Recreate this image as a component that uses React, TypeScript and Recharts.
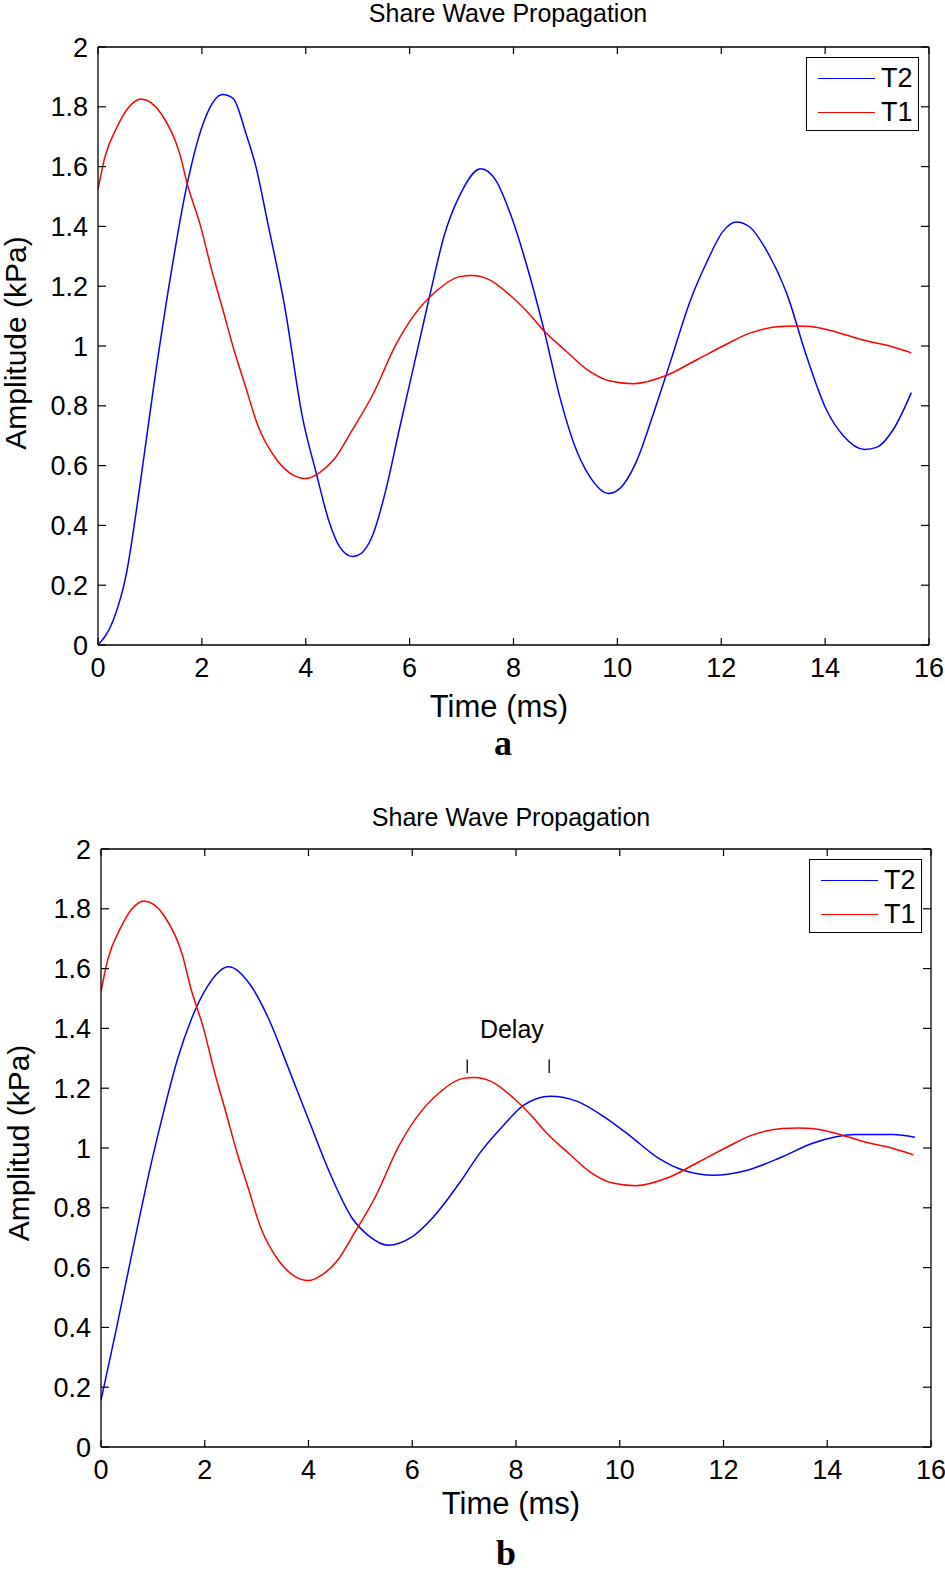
import React from 'react';
import { LineChart, Line, XAxis, YAxis, Legend, ReferenceLine, ReferenceDot } from 'recharts';

// T1 signal (same in both panels)
const t1Time = [0, 0.13, 0.38, 0.6, 0.83, 1.22, 1.57, 1.73, 1.96, 2.21, 2.4, 2.63, 2.82, 3.08, 3.43, 3.69, 4.0, 4.26, 4.55, 4.9, 5.29, 5.74, 6.09, 6.51, 6.96, 7.2, 7.53, 7.94, 8.32, 8.58, 9.03, 9.41, 9.86, 10.31, 10.95, 11.53, 12.1, 12.55, 13.13, 13.45, 13.71, 14.1, 14.73, 15.24, 15.66];
const t1Amp = [1.524, 1.63, 1.737, 1.8, 1.826, 1.776, 1.645, 1.535, 1.41, 1.24, 1.124, 0.98, 0.876, 0.733, 0.622, 0.576, 0.557, 0.576, 0.622, 0.72, 0.837, 1.006, 1.104, 1.183, 1.232, 1.236, 1.222, 1.169, 1.104, 1.052, 0.98, 0.922, 0.883, 0.874, 0.902, 0.954, 1.006, 1.043, 1.065, 1.067, 1.065, 1.052, 1.02, 1.0, 0.977];

// T2 signal, panel a
const t2aTime = [0, 0.29, 0.545, 0.8, 1.06, 1.38, 1.7, 2.05, 2.4, 2.6, 2.85, 3.04, 3.27, 3.59, 3.94, 4.2, 4.46, 4.65, 4.9, 5.03, 5.29, 5.55, 5.8, 6.09, 6.38, 6.67, 6.96, 7.37, 7.66, 7.95, 8.26, 8.58, 8.9, 9.15, 9.47, 9.83, 10.05, 10.37, 10.69, 11.01, 11.4, 11.72, 12.04, 12.29, 12.55, 12.87, 13.26, 13.64, 14.03, 14.35, 14.76, 14.99, 15.31, 15.66];
const t2aAmp = [0, 0.081, 0.237, 0.524, 0.85, 1.215, 1.528, 1.756, 1.841, 1.828, 1.71, 1.6, 1.41, 1.137, 0.759, 0.576, 0.407, 0.329, 0.296, 0.302, 0.368, 0.524, 0.72, 0.941, 1.163, 1.372, 1.502, 1.593, 1.554, 1.437, 1.267, 1.059, 0.824, 0.68, 0.563, 0.507, 0.524, 0.615, 0.772, 0.941, 1.15, 1.28, 1.385, 1.415, 1.398, 1.32, 1.176, 0.967, 0.785, 0.7, 0.654, 0.661, 0.72, 0.844];

// T2 signal, panel b
const t2bTime = [0, 0.29, 0.66, 0.97, 1.22, 1.48, 1.74, 2.05, 2.46, 2.88, 3.24, 3.6, 4.01, 4.43, 4.84, 5.15, 5.54, 5.98, 6.39, 6.91, 7.32, 7.73, 8.15, 8.66, 9.18, 9.7, 10.21, 10.73, 11.24, 11.81, 12.38, 13.1, 13.72, 14.55, 15.27, 15.69];
const t2bAmp = [0.156, 0.39, 0.7, 0.95, 1.13, 1.3, 1.43, 1.54, 1.606, 1.545, 1.429, 1.273, 1.091, 0.909, 0.766, 0.708, 0.675, 0.701, 0.766, 0.883, 0.987, 1.07, 1.143, 1.173, 1.156, 1.104, 1.039, 0.968, 0.925, 0.909, 0.922, 0.968, 1.016, 1.045, 1.045, 1.036];

const timeTicks = [0, 2, 4, 6, 8, 10, 12, 14, 16];
const ampTicks = [0, 0.2, 0.4, 0.6, 0.8, 1, 1.2, 1.4, 1.6, 1.8, 2];
const legendOrder = ['T2', 'T1'];

// delay annotation (panel b)
const delayMarks = [7.06, 8.64];
const delaySpan = [1.251, 1.296];
const delayLabel = { t: 7.92, v: 1.396, text: 'Delay' };

const FONT = '"Liberation Sans", Arial, sans-serif';
const SERIF = '"Liberation Serif", "Times New Roman", serif';

const toRows = (time: number[], amp: number[]) => time.map((t, i) => ({ t, v: amp[i] }));
const t1Rows = toRows(t1Time, t1Amp);

const BottomTick = (props: any) => {
  const { x, y, payload } = props;
  return (
    <g>
      <line x1={x} x2={x} y1={y} y2={y - 7} stroke="#000" strokeWidth={1.2} />
      <text x={x} y={y + 32} textAnchor="middle" fontSize={27} fontFamily={FONT} fill="#000">
        {payload.value}
      </text>
    </g>
  );
};

const LeftTick = (props: any) => {
  const { x, y, payload } = props;
  return (
    <g>
      <line x1={x} x2={x + 8} y1={y} y2={y} stroke="#000" strokeWidth={1.2} />
      <text x={x - 10} y={y + 9.5} textAnchor="end" fontSize={27} fontFamily={FONT} fill="#000">
        {payload.value}
      </text>
    </g>
  );
};

const TopTick = (props: any) => {
  const { x, y } = props;
  return <line x1={x} x2={x} y1={y} y2={y + 7} stroke="#000" strokeWidth={1.2} />;
};

const RightTick = (props: any) => {
  const { x, y } = props;
  return <line x1={x} x2={x - 8} y1={y} y2={y} stroke="#000" strokeWidth={1.2} />;
};

const LegendBox = ({ payload }: any) => {
  const items = (payload || [])
    .filter((p: any) => legendOrder.includes(p.value))
    .sort((a: any, b: any) => legendOrder.indexOf(a.value) - legendOrder.indexOf(b.value));
  return (
    <div
      style={{
        width: 111,
        height: 72,
        border: '1.5px solid #000',
        background: '#fff',
        fontFamily: FONT,
        fontSize: 27,
        position: 'relative',
      }}
    >
      {items.map((p: any, i: number) => (
        <div
          key={p.value}
          style={{ position: 'absolute', top: 20 + i * 34 - 15, left: 0, height: 30, display: 'flex', alignItems: 'center' }}
        >
          <div style={{ width: 57, height: 0, borderTop: `1.5px solid ${p.color}`, marginLeft: 11 }} />
          <span style={{ marginLeft: 6, lineHeight: 1 }}>{p.value}</span>
        </div>
      ))}
    </div>
  );
};

interface PanelProps {
  top: number;
  height: number;
  margin: { top: number; right: number; bottom: number; left: number };
  t2: { t: number; v: number }[];
  yLabel: string;
  letter: string;
  legendPos: { left: number; top: number };
  title: { x: number; y: number };
  xLabel: { x: number; y: number };
  yLabelPos: { x: number; y: number };
  letterPos: { x: number; y: number };
  showDelay?: boolean;
}

const centered = (x: number, y: number): React.CSSProperties => ({
  position: 'absolute',
  left: x,
  top: y,
  transform: 'translate(-50%, -50%)',
  whiteSpace: 'nowrap',
  lineHeight: 1,
});

const Panel = (p: PanelProps) => (
  <div style={{ position: 'absolute', left: 0, top: p.top, width: 945, height: p.height }}>
    <LineChart width={945} height={p.height} margin={p.margin}>
      <XAxis
        dataKey="t"
        type="number"
        domain={[0, 16]}
        ticks={timeTicks}
        height={30}
        tickSize={0}
        tickMargin={0}
        tickLine={false}
        axisLine={{ stroke: '#000', strokeWidth: 1.3 }}
        tick={<BottomTick />}
        allowDataOverflow
      />
      <XAxis
        xAxisId="top"
        dataKey="t"
        orientation="top"
        type="number"
        domain={[0, 16]}
        ticks={timeTicks}
        height={1}
        tickSize={0}
        tickMargin={0}
        tickLine={false}
        axisLine={{ stroke: '#000', strokeWidth: 1.3 }}
        tick={<TopTick />}
        allowDataOverflow
      />
      <YAxis
        type="number"
        domain={[0, 2]}
        ticks={ampTicks}
        width={60}
        tickSize={0}
        tickMargin={0}
        tickLine={false}
        axisLine={{ stroke: '#000', strokeWidth: 1.3 }}
        tick={<LeftTick />}
        allowDataOverflow
      />
      <YAxis
        yAxisId="right"
        orientation="right"
        type="number"
        domain={[0, 2]}
        ticks={ampTicks}
        width={1}
        tickSize={0}
        tickMargin={0}
        tickLine={false}
        axisLine={{ stroke: '#000', strokeWidth: 1.3 }}
        tick={<RightTick />}
        allowDataOverflow
      />
      <Line data={p.t2} dataKey="v" name="T2" type="monotone" stroke="#0000ff" strokeWidth={1.5} dot={false} isAnimationActive={false} />
      <Line data={t1Rows} dataKey="v" name="T1" type="monotone" stroke="#ff0000" strokeWidth={1.5} dot={false} isAnimationActive={false} />
      {/* hidden copy so the frame axes (top/right) get a domain */}
      <Line
        data={t1Rows}
        dataKey="v"
        name="frame"
        xAxisId="top"
        yAxisId="right"
        stroke="none"
        dot={false}
        legendType="none"
        isAnimationActive={false}
      />
      {p.showDelay &&
        delayMarks.map((m) => (
          <ReferenceLine
            key={m}
            segment={[
              { x: m, y: delaySpan[0] },
              { x: m, y: delaySpan[1] },
            ]}
            stroke="#000"
            strokeWidth={1.3}
          />
        ))}
      {p.showDelay && (
        <ReferenceDot
          x={delayLabel.t}
          y={delayLabel.v}
          r={1}
          fill="none"
          stroke="none"
          label={{ value: delayLabel.text, position: 'center', fontSize: 25, fill: '#000', fontFamily: FONT }}
        />
      )}
      <Legend
        layout="vertical"
        align="center"
        verticalAlign="middle"
        content={<LegendBox />}
        wrapperStyle={{ left: p.legendPos.left, top: p.legendPos.top, width: 'auto', height: 'auto' }}
      />
    </LineChart>
    <div style={{ ...centered(p.title.x, p.title.y), fontFamily: FONT, fontSize: 25 }}>Share Wave Propagation</div>
    <div style={{ ...centered(p.xLabel.x, p.xLabel.y), fontFamily: FONT, fontSize: 31 }}>Time (ms)</div>
    <div
      style={{
        ...centered(p.yLabelPos.x, p.yLabelPos.y),
        transform: 'translate(-50%, -50%) rotate(-90deg)',
        fontFamily: FONT,
        fontSize: 30,
      }}
    >
      {p.yLabel}
    </div>
    <div style={{ ...centered(p.letterPos.x, p.letterPos.y), fontFamily: SERIF, fontWeight: 'bold', fontSize: 36 }}>{p.letter}</div>
  </div>
);

export default function App() {
  return (
    <div style={{ position: 'absolute', left: 0, top: 0, width: 945, height: 1574, background: '#fff' }}>
      <Panel
        top={0}
        height={790}
        margin={{ top: 46, right: 15, bottom: 115, left: 38 }}
        t2={toRows(t2aTime, t2aAmp)}
        yLabel="Amplitude (kPa)"
        letter="a"
        legendPos={{ left: 806, top: 57 }}
        title={{ x: 508, y: 13 }}
        xLabel={{ x: 499, y: 706 }}
        yLabelPos={{ x: 16, y: 343 }}
        letterPos={{ x: 503, y: 743 }}
      />
      <Panel
        top={790}
        height={784}
        margin={{ top: 58, right: 13, bottom: 97, left: 41 }}
        t2={toRows(t2bTime, t2bAmp)}
        yLabel="Amplitud (kPa)"
        letter="b"
        legendPos={{ left: 809, top: 69 }}
        title={{ x: 511, y: 27 }}
        xLabel={{ x: 511, y: 713 }}
        yLabelPos={{ x: 19, y: 353 }}
        letterPos={{ x: 506, y: 763 }}
        showDelay
      />
    </div>
  );
}
